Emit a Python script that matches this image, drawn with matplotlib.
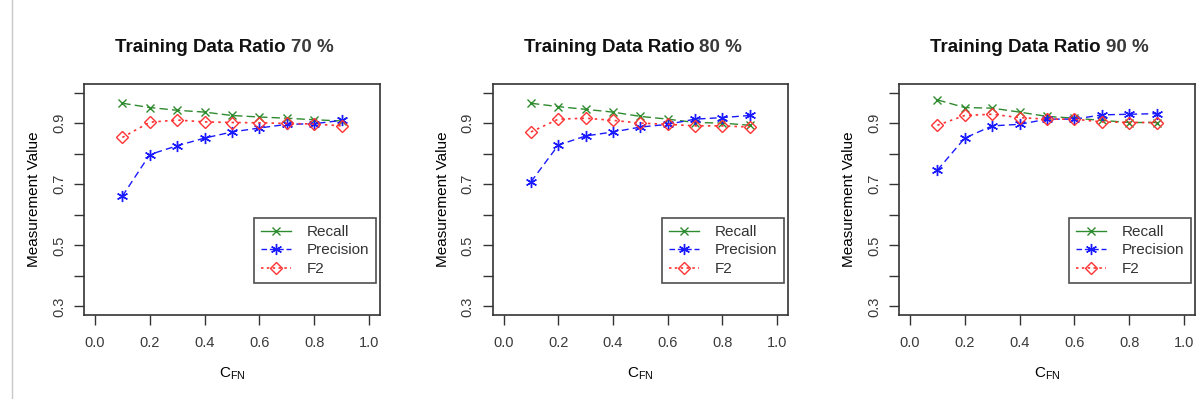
import numpy as np
import matplotlib.pyplot as plt
from matplotlib.lines import Line2D

plt.rcParams['font.family'] = ['Liberation Sans', 'DejaVu Sans']

c_fn = [0.1, 0.2, 0.3, 0.4, 0.5, 0.6, 0.7, 0.8, 0.9]
ratios = ['70', '80', '90']

recall_70 = [0.965, 0.951, 0.942, 0.936, 0.925, 0.920, 0.916, 0.911, 0.907]
precision_70 = [0.661, 0.797, 0.826, 0.851, 0.871, 0.884, 0.896, 0.898, 0.909]
f2_70 = [0.853, 0.903, 0.910, 0.904, 0.902, 0.901, 0.899, 0.897, 0.891]

recall_80 = [0.965, 0.954, 0.945, 0.936, 0.922, 0.913, 0.902, 0.900, 0.893]
precision_80 = [0.708, 0.828, 0.858, 0.871, 0.887, 0.896, 0.913, 0.918, 0.925]
f2_80 = [0.871, 0.913, 0.916, 0.909, 0.900, 0.896, 0.891, 0.891, 0.887]

recall_90 = [0.976, 0.951, 0.949, 0.936, 0.922, 0.916, 0.909, 0.902, 0.902]
precision_90 = [0.746, 0.851, 0.891, 0.896, 0.913, 0.913, 0.927, 0.929, 0.931]
f2_90 = [0.893, 0.925, 0.929, 0.918, 0.913, 0.913, 0.904, 0.902, 0.902]

recalls = [recall_70, recall_80, recall_90]
precisions = [precision_70, precision_80, precision_90]
f2s = [f2_70, f2_80, f2_90]

green = '#2e8b2e'
blue = '#1a1aff'
red = '#ff3333'
tick_col = '#3a3a3a'

fig = plt.figure(figsize=(11.97, 3.99), dpi=100)
# thin gray separator on the left edge
fig.add_artist(Line2D([12 / 1197, 12 / 1197], [0, 1], color='#c8c8c8', lw=1))

lefts = [84, 492.7, 899]
widths = [296, 295.3, 296]
for k in range(3):
    ax = fig.add_axes([lefts[k] / 1197, 1 - 315 / 399, widths[k] / 1197, 231 / 399])
    ax.plot(c_fn, recalls[k], color=green, ls=(0, (6, 3)), lw=1,
            marker='x', ms=6, mew=1)
    ax.plot(c_fn, precisions[k], color=blue, ls=(0, (5, 3)), lw=1,
            marker=(6, 2, 0), ms=8, mew=1)
    ax.plot(c_fn, f2s[k], color=red, ls=(0, (1.5, 2.5)), lw=1.2,
            marker='D', ms=6, mfc='none', mew=1)

    ax.set_xlim(-0.04, 1.04)
    ax.set_ylim(0.272, 1.028)
    ax.set_xticks(np.arange(0, 1.01, 0.2))
    ax.set_xticklabels(['0.0', '0.2', '0.4', '0.6', '0.8', '1.0'])
    ax.set_yticks(np.arange(0.3, 1.01, 0.1))
    ax.set_yticklabels(['0.3', '', '0.5', '', '0.7', '', '0.9', ''],
                       rotation=90, va='center')
    ax.tick_params(length=7, width=1, direction='out', labelsize=10.5,
                   labelcolor=tick_col, color='#333333', pad=6)
    ax.tick_params(axis='x', pad=8)
    for s in ax.spines.values():
        s.set_linewidth(1.2)
        s.set_color('#333333')

    ax.set_xlabel('C$_{\\mathregular{FN}}$', fontsize=11, labelpad=11)
    ax.set_ylabel('Measurement Value', fontsize=11, labelpad=8)

    ax.text(0.70, 1.16, 'Training Data Ratio ', transform=ax.transAxes,
            ha='right', va='center', fontsize=13.5, fontweight='bold', color='#111111')
    ax.text(0.70, 1.16, ratios[k] + ' %', transform=ax.transAxes,
            ha='left', va='center', fontsize=13.5, fontweight='bold', color='#3a3a3a')

    handles = [
        Line2D([], [], color=green, ls='-', lw=1, marker='x', ms=6),
        Line2D([], [], color=blue, ls=(0, (4, 2)), lw=1, marker=(6, 2, 0), ms=8),
        Line2D([], [], color=red, ls=(0, (1.5, 2)), lw=1.2, marker='D', ms=6, mfc='none'),
    ]
    leg = ax.legend(handles, ['Recall', 'Precision', 'F2'], loc='lower right',
                    bbox_to_anchor=(0.986, 0.139), fontsize=11, frameon=True,
                    fancybox=False, edgecolor='#222222', handlelength=2.0,
                    borderpad=0.45, labelspacing=0.3, handletextpad=1.0,
                    borderaxespad=0)
    leg.get_frame().set_linewidth(1.2)
    for t in leg.get_texts():
        t.set_color('#333333')

plt.savefig('out.png', dpi=100)
